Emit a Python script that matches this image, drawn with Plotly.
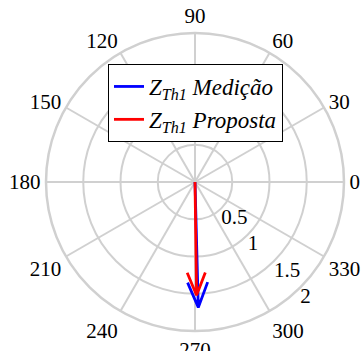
import numpy as np
import plotly.graph_objects as go

# data (magnitude, angle in degrees)
series_names = ["<i>Z</i><sub><i>Th1</i></sub> <i>Medição</i>", "<i>Z</i><sub><i>Th1</i></sub> <i>Proposta</i>"]
magnitudes = [1.685, 1.52]
angles_deg = [271.5, 270.8]
colors = ["#0000ff", "#ff0000"]
radial_ticks = [0.5, 1, 1.5, 2]
radial_ticklabels = ["0.5", "1", "1.5", "2"]
angular_ticks = list(range(0, 360, 30))

FONT = "Times New Roman, Liberation Serif, serif"

fig = go.Figure()

# compass-style arrows: shaft + head wings at 0.8*|z| with 0.08*|z| lateral offset
head_a, head_b = 0.8, 0.08
for name, m, a, c in zip(series_names, magnitudes, angles_deg, colors):
    rw = m * np.hypot(head_a, head_b)
    dw = np.degrees(np.arctan2(head_b, head_a))
    fig.add_trace(go.Scatterpolar(
        r=[0, m, rw, m, rw],
        theta=[a, a, a + dw, a, a - dw],
        mode="lines",
        line=dict(color=c, width=2.8),
        name=name,
        showlegend=True,
    ))

# radial tick labels placed along -45 degrees, just outside each ring
fig.add_trace(go.Scatterpolar(
    r=radial_ticks,
    theta=[-45] * len(radial_ticks),
    mode="text",
    text=radial_ticklabels,
    textposition="bottom right",
    textfont=dict(family=FONT, size=21, color="black"),
    showlegend=False,
    cliponaxis=False,
    hoverinfo="skip",
))

fig.update_layout(
    width=364, height=351,
    margin=dict(l=0, r=0, t=0, b=0),
    paper_bgcolor="white",
    font=dict(family=FONT, size=21, color="black"),
    polar=dict(
        domain=dict(x=[46/364, 344/364], y=[1-331/351, 1-33/351]),
        bgcolor="white",
        radialaxis=dict(
            range=[0, 2], tickvals=radial_ticks, showticklabels=False,
            showline=False, ticks="", gridcolor="#d0d0d0", gridwidth=2,
        ),
        angularaxis=dict(
            rotation=0, direction="counterclockwise",
            tickvals=angular_ticks, ticktext=[str(t) for t in angular_ticks],
            ticks="", showline=True, linecolor="#d0d0d0", linewidth=2.5,
            gridcolor="#d0d0d0", gridwidth=2,
            tickfont=dict(family=FONT, size=21, color="black"),
        ),
    ),
    legend=dict(
        x=108/364, y=1-64/351, xanchor="left", yanchor="top",
        bgcolor="white", bordercolor="black", borderwidth=1,
        font=dict(family=FONT, size=23, color="black"),
        tracegroupgap=0,
    ),
)

fig.write_html("out.html", config={"displayModeBar": False},
               post_script="document.body.style.margin='0px';")
